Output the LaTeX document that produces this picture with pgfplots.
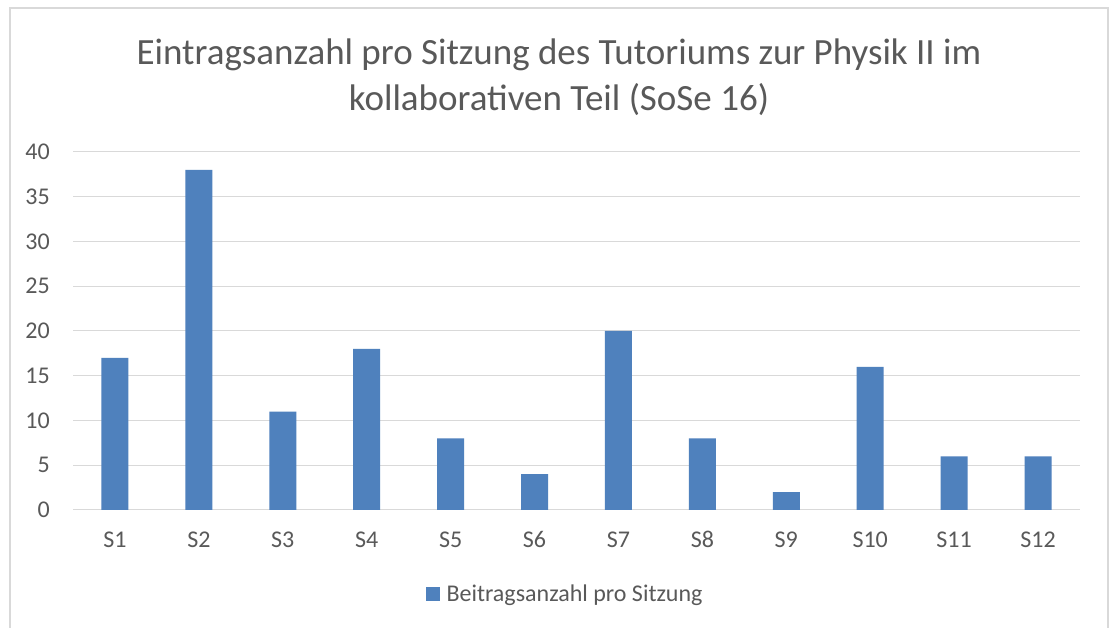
\documentclass[border=0pt]{standalone}
\usepackage{pgfplots}
\pgfplotsset{compat=1.18}
\usepackage{fontspec}
\setmainfont{Carlito}
\definecolor{barblue}{HTML}{4F81BD}
\definecolor{txtgray}{HTML}{595959}
\definecolor{gridgray}{HTML}{D9D9D9}

\begin{document}
\begin{tikzpicture}
\useasboundingbox (0pt,0pt) rectangle (1114pt,628pt);
\fill[white] (0pt,0pt) rectangle (1114pt,628pt);
\draw[gridgray, line width=1.5pt] (10pt,-2pt) -- (10pt,620pt) -- (1108pt,620pt) -- (1108pt,-2pt);

\node[txtgray, font=\fontsize{37}{44}\selectfont] at (559pt,573pt) {Eintragsanzahl pro Sitzung des Tutoriums zur Physik II im};
\node[txtgray, font=\fontsize{37}{44}\selectfont] at (559pt,528pt) {kollaborativen Teil (SoSe 16)};

\begin{axis}[
    at={(73pt,118pt)}, anchor=south west,
    scale only axis,
    width=1007pt, height=358pt,
    xmin=0.5, xmax=12.5,
    ymin=0, ymax=40,
    xtick={1,...,12},
    xticklabels={S1,S2,S3,S4,S5,S6,S7,S8,S9,S10,S11,S12},
    ytick={0,5,...,40},
    ymajorgrids=true,
    grid style={gridgray, line width=1pt},
    axis line style={draw=none},
    major tick length=0pt,
    tick label style={txtgray, font=\fontsize{24}{28}\selectfont},
    /pgf/number format/assume math mode=true,
    xticklabel style={anchor=base, inner sep=0pt, yshift=-38pt},
    yticklabel style={anchor=east, inner sep=0pt, xshift=-23pt},
    legend style={
        at={(0.4886,-0.2346)}, anchor=center,
        draw=none, fill=none,
        font=\fontsize{24}{28}\selectfont, text=txtgray,
        /tikz/every even column/.append style={column sep=0pt},
    },
    legend image code/.code={
        \fill[barblue] (0pt,-7pt) rectangle (14pt,7pt);
    },
]
\addplot[ybar, bar width=27pt, bar shift=0pt, fill=barblue, draw=none] coordinates {
    (1,17) (2,38) (3,11) (4,18) (5,8) (6,4)
    (7,20) (8,8) (9,2) (10,16) (11,6) (12,6)
};
\addlegendentry{\hspace{5pt}Beitragsanzahl pro Sitzung}
\end{axis}
\end{tikzpicture}
\end{document}
